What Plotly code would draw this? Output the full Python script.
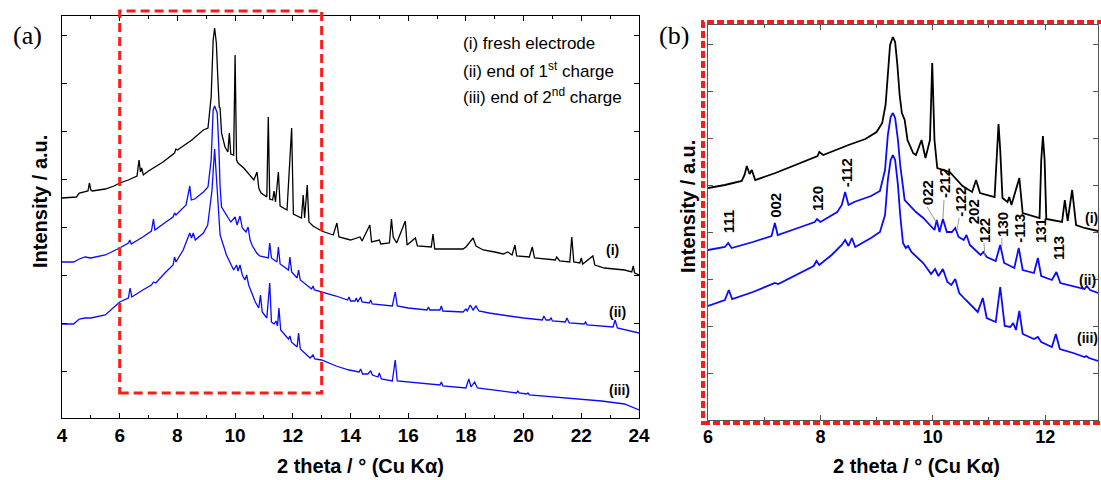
import plotly.graph_objects as go

# ---------------- Panel (a): full XRD patterns ----------------
a_i_x = [4.0, 4.5, 4.6, 4.9, 4.95, 5.0, 5.05, 5.5, 5.8, 6.0, 6.3, 6.6, 6.67, 6.72, 6.76, 6.82, 7.0, 7.5,
         7.9, 7.95, 8.0, 8.5, 8.9, 9.06, 9.17, 9.24, 9.29, 9.35, 9.4, 9.45, 9.48, 9.53, 9.65, 9.75, 9.8,
         9.85, 9.95, 10.0, 10.05, 10.1, 10.3, 10.65, 10.76, 10.82, 10.9, 11.1, 11.15, 11.2, 11.3, 11.35,
         11.4, 11.5, 11.56, 11.8, 11.96, 12.02, 12.3, 12.36, 12.41, 12.5, 12.56, 12.7, 13.0, 13.4, 13.53,
         13.6, 14.0, 14.33, 14.4, 14.67, 14.73, 15.0, 15.05, 15.35, 15.42, 15.48, 15.6, 15.9, 15.96,
         16.25, 16.32, 16.8, 16.86, 16.92, 17.4, 17.9, 18.0, 18.25, 18.35, 18.6, 19.0, 19.3, 19.45, 19.6,
         19.7, 19.76, 20.2, 20.3, 20.38, 21.0, 21.1, 21.15, 21.25, 21.6, 21.67, 21.74, 21.95, 22.0, 22.05,
         22.4, 22.47, 22.8, 23.5, 23.75, 23.8, 23.85, 24.0]
a_i_y = [220, 221, 225, 227, 235, 228, 227, 229, 232, 235, 238, 242, 258, 246, 250, 243, 247, 256,
         265, 269, 268, 278, 288, 290, 321, 378, 390, 375, 341, 311, 310, 285, 271, 266, 285,
         264, 263, 363, 258, 255, 250, 238, 246, 230, 225, 221, 301, 219, 218, 227,
         216, 246, 212, 208, 290, 204, 200, 223, 200, 233, 196, 192, 187, 183, 195,
         181, 178, 181, 177, 193, 176, 178, 174, 175, 199, 181, 175, 197, 173,
         180, 172, 171, 184, 169, 169, 169, 171, 180, 172, 168, 166, 164, 166, 163,
         173, 162, 161, 171, 160, 158, 158, 161, 157, 156, 181, 156, 155, 160, 154,
         162, 153, 150, 148, 146, 152, 145, 143]

a_ii_x = [4.0, 4.4, 4.6, 4.8, 5.0, 5.5, 6.0, 6.3, 6.35, 6.4, 6.8, 7.1, 7.17, 7.22, 7.6, 7.85, 7.9, 7.95,
          8.3, 8.43, 8.48, 8.6, 8.9, 9.06, 9.17, 9.24, 9.29, 9.38, 9.44, 9.48, 9.53, 9.7, 9.85, 10.0,
          10.07, 10.17, 10.25, 10.38, 10.45, 10.52, 10.6, 10.75, 10.85, 11.15, 11.2, 11.26, 11.45, 11.5,
          11.56, 11.85, 11.9, 11.96, 12.15, 12.2, 12.26, 12.65, 12.7, 12.75, 13.0, 13.5, 13.9, 13.95,
          14.0, 14.15, 14.2, 14.25, 14.35, 14.4, 14.65, 14.7, 14.75, 15.45, 15.55, 15.62, 16.0, 16.65,
          16.7, 16.75, 17.1, 17.15, 17.2, 17.9, 18.0, 18.05, 18.15, 18.25, 18.35, 18.45, 18.8, 19.0,
          19.5, 20.0, 20.65, 20.7, 20.78, 20.9, 20.95, 21.0, 21.45, 21.5, 21.58, 22.1, 22.15, 22.2,
          23.1, 23.17, 23.25, 24.0]
a_ii_y = [156, 156, 159, 161, 160, 163, 170, 175, 178, 174, 181, 187, 199, 188, 196, 201, 205, 203,
          213, 232, 218, 219, 226, 231, 258, 308, 312, 305, 268, 231, 211, 203, 196, 201,
          193, 202, 190, 186, 191, 178, 172, 165, 162, 160, 175, 160, 156, 171,
          154, 148, 161, 146, 140, 148, 138, 129, 132, 128, 126, 122, 118, 121,
          117, 117, 120, 116, 121, 116, 115, 118, 114, 112, 126, 112, 110, 108,
          111, 108, 108, 112, 107, 106, 109, 107, 113, 108, 112, 107, 105, 104,
          102, 100, 98, 102, 98, 98, 100, 97, 96, 100, 95, 94, 96, 93,
          91, 98, 90, 85]

a_iii_x = [4.0, 4.4, 4.6, 4.8, 5.0, 5.5, 6.0, 6.3, 6.36, 6.42, 6.8, 7.1, 7.17, 7.25, 7.6, 7.85, 7.9, 7.95,
           8.2, 8.35, 8.43, 8.49, 8.55, 8.62, 8.9, 9.05, 9.2, 9.29, 9.38, 9.48, 9.7, 9.95, 10.05, 10.1,
           10.17, 10.25, 10.34, 10.4, 10.47, 10.62, 10.7, 10.82, 10.88, 10.94, 11.1, 11.2, 11.26, 11.35,
           11.42, 11.47, 11.52, 11.58, 11.85, 11.9, 11.95, 12.15, 12.2, 12.26, 12.6, 12.7, 12.76, 13.0,
           13.5, 13.95, 14.3, 14.35, 14.42, 14.6, 14.7, 14.76, 14.95, 15.0, 15.07, 15.45, 15.55, 15.62,
           16.0, 16.5, 17.1, 17.15, 17.2, 18.0, 18.1, 18.18, 18.3, 18.4, 19.0, 19.75, 19.8, 19.85, 20.1,
           20.15, 20.2, 21.0, 22.0, 22.7, 23.5, 24.0]
a_iii_y = [94, 94, 99, 100, 100, 103, 116, 120, 130, 121, 128, 133, 136, 135, 146, 153, 161, 156,
           168, 178, 185, 180, 185, 178, 185, 193, 228, 269, 231, 183, 163, 148, 153, 147,
           153, 143, 138, 143, 133, 121, 116, 110, 123, 106, 100, 135, 96, 94,
           97, 92, 110, 88, 79, 82, 76, 71, 85, 69, 60, 63, 59, 58,
           52, 48, 46, 49, 44, 44, 47, 43, 41, 45, 39, 37, 58, 37,
           36, 34, 33, 36, 32, 30, 39, 31, 36, 30, 28, 25, 27, 25, 24,
           25, 23, 21, 19, 17, 14, 8]

# ---------------- Panel (b): zoom 6-13 degrees ----------------
b_i_x = [6.0, 6.3, 6.6, 6.65, 6.69, 6.74, 6.78, 6.84, 7.2, 7.6, 7.95, 7.98, 8.05, 8.5, 8.8, 9.0, 9.1,
         9.16, 9.2, 9.24, 9.29, 9.33, 9.37, 9.41, 9.45, 9.5, 9.55, 9.65, 9.7, 9.8, 9.87, 9.95, 9.99, 10.03,
         10.08, 10.3, 10.53, 10.7, 10.77, 10.84, 11.1, 11.14, 11.17, 11.2, 11.24, 11.33, 11.36, 11.4, 11.54,
         11.6, 11.9, 11.93, 11.96, 11.99, 12.02, 12.3, 12.35, 12.4, 12.48, 12.55, 12.7, 12.94]
b_i_y = [232, 235, 239, 245, 254, 246, 250, 240, 247, 256, 264, 268, 265, 275, 281, 288, 297,
         315, 350, 375, 383, 378, 355, 325, 307, 300, 280, 267, 265, 280, 262, 280, 357, 280,
         252, 248, 234, 228, 240, 227, 223, 270, 296, 270, 222, 218, 223, 215, 242,
         207, 202, 260, 284, 260, 201, 198, 220, 199, 230, 195, 192, 189]

b_ii_x = [6.0, 6.3, 6.36, 6.42, 6.8, 7.07, 7.13, 7.19, 7.24, 7.6, 7.9, 7.94, 8.0, 8.3, 8.38, 8.44, 8.5,
          8.6, 8.9, 9.06, 9.15, 9.2, 9.25, 9.29, 9.33, 9.38, 9.42, 9.5, 9.7, 9.83, 9.95, 10.03, 10.07,
          10.12, 10.18, 10.25, 10.34, 10.4, 10.46, 10.55, 10.6, 10.66, 10.85, 10.9, 10.96, 11.12, 11.2,
          11.27, 11.45, 11.53, 11.6, 11.8, 11.87, 11.93, 12.12, 12.2, 12.27, 12.5, 12.7, 12.74, 12.8,
          12.94]
b_ii_y = [170, 173, 177, 172, 178, 183, 184, 197, 185, 192, 198, 201, 198, 208, 215, 228, 215,
          218, 224, 229, 250, 285, 303, 307, 302, 280, 255, 220, 208, 202, 195, 190, 200,
          188, 201, 188, 188, 192, 183, 180, 185, 175, 165, 168, 163, 159, 175,
          157, 152, 172, 150, 147, 162, 144, 140, 148, 137, 134, 131, 134, 130,
          127]

b_iii_x = [6.0, 6.3, 6.37, 6.43, 6.8, 7.1, 7.19, 7.25, 7.6, 7.88, 7.93, 7.98, 8.2, 8.38, 8.44, 8.5, 8.56,
           8.62, 8.9, 9.06, 9.15, 9.2, 9.25, 9.29, 9.33, 9.38, 9.42, 9.47, 9.52, 9.56, 9.62, 9.83, 9.97,
           10.04, 10.1, 10.18, 10.26, 10.33, 10.4, 10.47, 10.57, 10.64, 10.8, 10.89, 10.96, 11.12, 11.2,
           11.28, 11.38, 11.43, 11.48, 11.54, 11.6, 11.8, 11.87, 11.93, 12.12, 12.19, 12.26, 12.5, 12.7,
           12.73, 12.78, 12.94]
b_iii_y = [114, 120, 130, 121, 128, 135, 137, 136, 146, 154, 159, 155, 165, 175, 180, 174, 182,
           173, 182, 188, 205, 240, 260, 265, 260, 235, 205, 177, 172, 174, 168, 157, 146,
           151, 144, 151, 138, 135, 141, 127, 121, 117, 108, 122, 102, 98, 133,
           94, 93, 97, 90, 109, 86, 81, 83, 78, 73, 86, 71, 67, 63,
           64, 62, 59]

# Miller-index labels in panel (b): text, 2theta, intensity
hkl_text = ["111", "002", "120", "-112", "022", "-212", "-122", "202", "122", "130", "-113", "131", "113"]
hkl_x = [6.36, 7.19, 7.94, 8.46, 9.90, 10.20, 10.48, 10.72, 10.91, 11.23, 11.53, 11.91, 12.23]
hkl_y = [198, 215, 221, 247, 227, 237, 218, 208, 190, 196, 192, 189, 172]

legend_lines = ["(i) fresh electrode", "(ii) end of 1<sup>st</sup> charge", "(iii) end of 2<sup>nd</sup> charge"]
curve_tags = ["(i)", "(ii)", "(iii)"]

W, H = 1101, 480
FONT = "Arial, Liberation Sans, Helvetica, sans-serif"
BLUE = "#0a0aff"

fig = go.Figure()
for xs, ys, col in [(a_i_x, a_i_y, "black"), (a_ii_x, a_ii_y, BLUE), (a_iii_x, a_iii_y, BLUE)]:
    fig.add_trace(go.Scatter(x=xs, y=ys, mode="lines", line=dict(color=col, width=1.3),
                             xaxis="x", yaxis="y", showlegend=False, hoverinfo="skip"))
for xs, ys, col in [(b_i_x, b_i_y, "black"), (b_ii_x, b_ii_y, BLUE), (b_iii_x, b_iii_y, BLUE)]:
    fig.add_trace(go.Scatter(x=xs, y=ys, mode="lines", line=dict(color=col, width=1.8),
                             xaxis="x2", yaxis="y2", showlegend=False, hoverinfo="skip"))


def px(v):
    return v / W


def py(v):
    return 1 - v / H


tickfont = dict(family=FONT, size=19, color="black", weight="bold")
fig.update_layout(
    width=W, height=H, margin=dict(l=0, r=0, t=0, b=0, autoexpand=False),
    paper_bgcolor="white", plot_bgcolor="white",
    xaxis=dict(domain=[px(62), px(639)], range=[4, 24], anchor="y", showline=True, linecolor="black",
               linewidth=1.2, mirror="allticks", ticks="inside", ticklen=5, tickcolor="black",
               tick0=4, dtick=2, tickfont=tickfont, showgrid=False, zeroline=False,
               minor=dict(dtick=1, ticks="inside", ticklen=3, tickcolor="black", showgrid=False)),
    yaxis=dict(domain=[py(418), py(16)], range=[0, 402], anchor="x", showline=True, linecolor="black",
               linewidth=1.2, mirror="allticks", ticks="inside", ticklen=5, tickcolor="black",
               tick0=47, dtick=48, showticklabels=False, showgrid=False, zeroline=False),
    xaxis2=dict(domain=[px(708), px(1098)], range=[6, 12.94], anchor="y2", showline=True, linecolor="#555",
                linewidth=1.2, mirror="allticks", ticks="inside", ticklen=5, tickcolor="#555",
                tick0=6, dtick=2, tickfont=dict(family=FONT, size=18, color="black", weight="bold"),
                showgrid=False, zeroline=False,
                minor=dict(dtick=1, ticks="inside", ticklen=3, tickcolor="#555", showgrid=False)),
    yaxis2=dict(domain=[py(420), py(25)], range=[0, 395], anchor="x2", showline=True, linecolor="#555",
                linewidth=1.2, mirror="allticks", ticks="inside", ticklen=5, tickcolor="#555",
                tick0=47, dtick=46.9, showticklabels=False, showgrid=False, zeroline=False),
)

shapes = [
    dict(type="rect", xref="x", yref="paper", x0=6, x1=13, y0=py(393), y1=py(11),
         line=dict(color="#ff1a1a", width=3, dash="9px,5px"), fillcolor="rgba(0,0,0,0)", layer="above"),
    dict(type="rect", xref="paper", yref="paper", x0=px(703), x1=1.02, y0=py(423), y1=py(22),
         line=dict(color="#ff1a1a", width=4, dash="7px,3px"), fillcolor="rgba(0,0,0,0)", layer="above"),
]
# leader lines for hkl labels
leaders = [((9.90, 213), (10.06, 198)), ((10.20, 220), (10.18, 201)), ((10.47, 202), (10.43, 190)),
           ((10.91, 177), (10.93, 164)), ((11.23, 182), (11.23, 173))]
for (x0, y0), (x1, y1) in leaders:
    shapes.append(dict(type="line", xref="x2", yref="y2", x0=x0, y0=y0, x1=x1, y1=y1,
                       line=dict(color="#999", width=1)))
fig.update_layout(shapes=shapes)


def paper_text(text, x, y, font, **kw):
    d = dict(text=text, x=px(x), y=py(y), xref="paper", yref="paper", showarrow=False,
             xanchor="center", yanchor="middle", font=font)
    d.update(kw)
    return d


ann = []
serif = dict(family="Liberation Serif, Times New Roman, serif", size=26, color="black")
ann.append(paper_text("(a)", 27, 36, serif))
ann.append(paper_text("(b)", 674, 36, serif))
bold20 = dict(family=FONT, size=20, color="black", weight="bold")
for cx, cy in [(360, 466), (916, 466)]:
    ann.append(paper_text("2 theta / \u00b0 (Cu K\u03b1)", cx, cy, bold20))
for cx, cy in [(40, 202), (688, 207)]:
    ann.append(paper_text("Intensity / a.u.", cx, cy, bold20, textangle=-90))
for t, cy in zip(legend_lines, [43, 70, 96]):
    ann.append(paper_text(t, 461, cy, dict(family=FONT, size=17, color="black"), xanchor="left"))
# curve tags panel a
for t, x, y in zip(curve_tags, [23.07, 23.24, 23.34], [168, 106, 28]):
    ann.append(dict(text=t, x=x, y=y, xref="x", yref="y", showarrow=False, xanchor="center", yanchor="middle",
                    font=dict(family=FONT, size=14, color="black", weight="bold")))
# curve tags panel b
for t, x, y in zip(curve_tags, [12.83, 12.76, 12.76], [202, 140, 82]):
    ann.append(dict(text=t, x=x, y=y, xref="x2", yref="y2", showarrow=False, xanchor="center",
                    yanchor="middle", font=dict(family=FONT, size=14, color="black", weight="bold")))
# hkl labels
for t, x, y in zip(hkl_text, hkl_x, hkl_y):
    ann.append(dict(text=t, x=x, y=y, xref="x2", yref="y2", showarrow=False, textangle=-90,
                    xanchor="center", yanchor="middle",
                    font=dict(family=FONT, size=15, color="black", weight="bold")))
fig.update_layout(annotations=ann)

fig.write_html("out.html", config={"displayModeBar": False},
               post_script="document.body.style.margin='0';document.body.style.padding='0';")
